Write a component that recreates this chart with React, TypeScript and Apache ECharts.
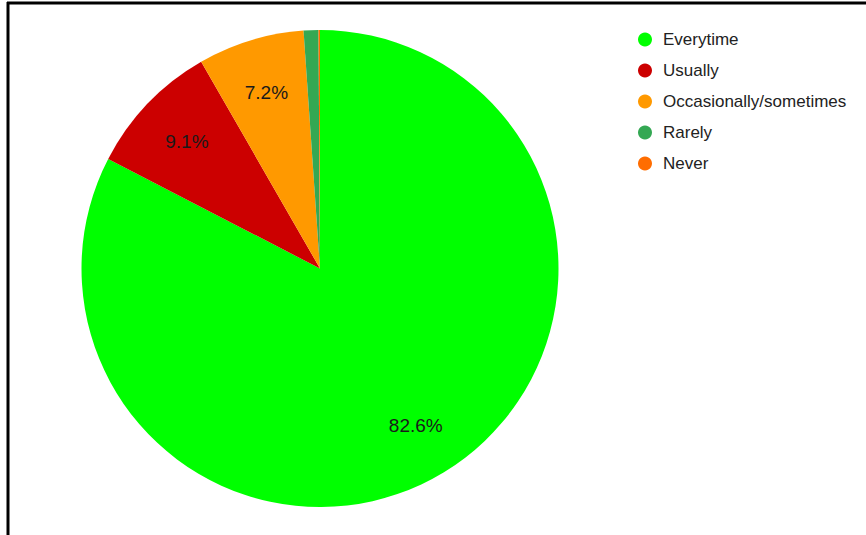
import React, { useEffect, useRef } from "react";
import * as echarts from "echarts";

const categories = ["Everytime", "Usually", "Occasionally/sometimes", "Rarely", "Never"];
const values = [82.6, 9.1, 7.2, 1.0, 0.1];
const colors = ["#00ff00", "#cc0000", "#ff9900", "#34a853", "#ff6d01"];
const showLabel = [true, true, true, false, false];

export default function App() {
  const ref = useRef<HTMLDivElement>(null);
  useEffect(() => {
    if (!ref.current) return;
    const chart = echarts.init(ref.current, null, { renderer: "svg" });
    const R = 238.5;
    const center = [320, 268.5];
    chart.setOption({
      animation: false,
      backgroundColor: "#ffffff",
      legend: {
        orient: "vertical",
        left: 633,
        top: 26,
        icon: "circle",
        itemWidth: 14,
        itemHeight: 14,
        itemGap: 14,
        data: categories,
        textStyle: {
          fontFamily: "Liberation Sans, Arial",
          fontSize: 17,
          color: "#222222",
          lineHeight: 17,
          padding: [0, 0, 0, 6],
        },
      },
      graphic: [
        { type: "line", shape: { x1: 7, y1: 3, x2: 866, y2: 3 }, style: { stroke: "#000", lineWidth: 3 } },
        { type: "line", shape: { x1: 8, y1: 2, x2: 8, y2: 535 }, style: { stroke: "#000", lineWidth: 3 } },
      ],
      series: [
        {
          type: "pie",
          center,
          radius: [0, R],
          startAngle: 90,
          clockwise: true,
          avoidLabelOverlap: false,
          label: { show: false },
          labelLine: { show: false },
          itemStyle: { borderWidth: 0 },
          emphasis: { disabled: true },
          data: categories.map((n, i) => ({ name: n, value: values[i], itemStyle: { color: colors[i] } })),
        },
        {
          type: "pie",
          center,
          radius: [R * 0.52, R],
          startAngle: 90,
          clockwise: true,
          silent: true,
          avoidLabelOverlap: false,
          legendHoverLink: false,
          labelLine: { show: false },
          label: {
            show: true,
            position: "inside",
            fontFamily: "Liberation Sans, Arial",
            fontSize: 19,
            color: "#1a1a1a",
            formatter: (p: any) => p.value.toFixed(1) + "%",
          },
          itemStyle: { color: "rgba(0,0,0,0)", borderWidth: 0 },
          emphasis: { disabled: true },
          data: categories.map((n, i) => ({
            name: n + " ",
            value: values[i],
            label: { show: showLabel[i] },
          })),
        },
      ],
    });
    return () => chart.dispose();
  }, []);
  return <div ref={ref} style={{ position: "fixed", left: 0, top: 0, width: 866, height: 535 }} />;
}
